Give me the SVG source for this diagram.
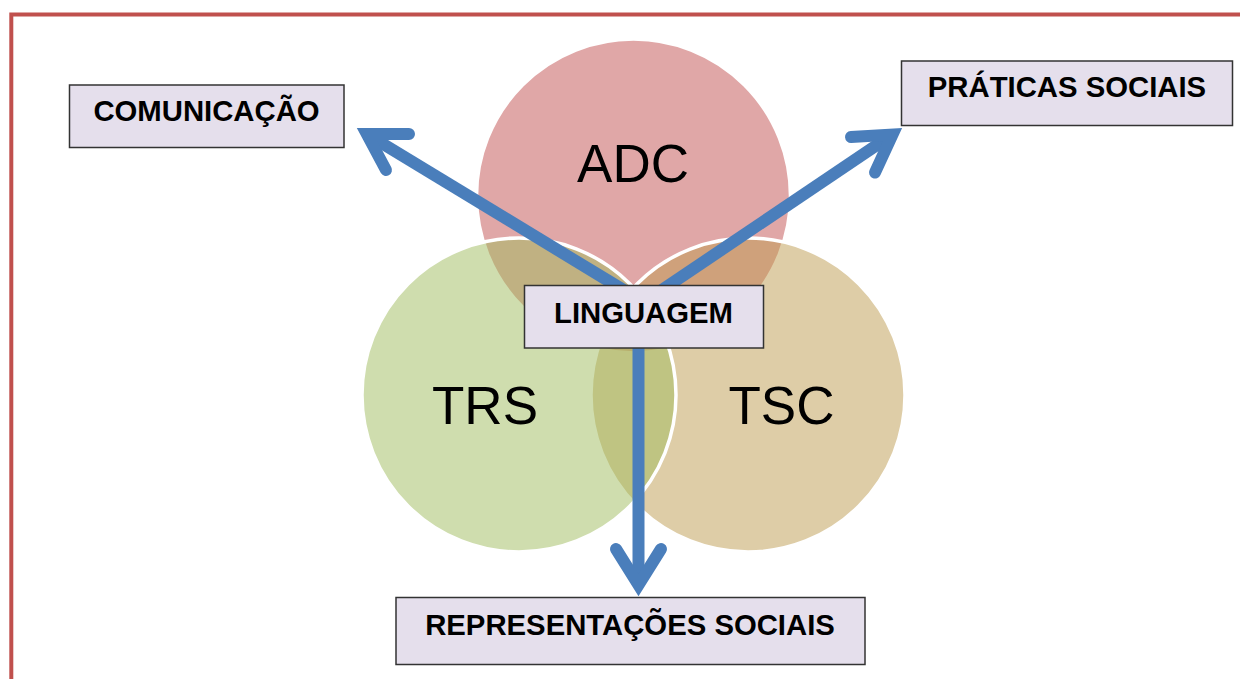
<svg xmlns="http://www.w3.org/2000/svg" width="1240" height="679" viewBox="0 0 1240 679">
  <style>
    .frame { fill: none; stroke: #C0504D; stroke-width: 4; }
    .venn { stroke: #FFFFFF; stroke-width: 3.5; }
    .label { fill: #E5DFEC; stroke: #333333; stroke-width: 1.5; }
    .label-text { font-family: "Liberation Sans", Arial, sans-serif; font-weight: bold; font-size: 29.3px; fill: #000000; text-anchor: middle; }
    .set-text { font-family: "Liberation Sans", Arial, sans-serif; font-size: 53px; fill: #000000; text-anchor: middle; }
    .shaft { fill: none; stroke: #4A7EBB; stroke-width: 12; stroke-linecap: butt; }
    .head { fill: none; stroke: #4A7EBB; stroke-width: 12; stroke-linecap: round; stroke-linejoin: miter; stroke-miterlimit: 10; }
  </style>

  <!-- outer frame -->
  <rect class="frame" x="11.3" y="14.5" width="1300" height="800"/>

  <!-- three overlapping sets -->
  <g id="set-adc">
    <circle class="venn" cx="633.5" cy="196" r="157" fill="#C14F4F" fill-opacity="0.5"/>
    <text class="set-text" x="633" y="182">ADC</text>
  </g>
  <g id="set-tsc">
    <circle class="venn" cx="748" cy="395" r="157" fill="#BD9B4F" fill-opacity="0.5"/>
    <text class="set-text" x="781.5" y="424">TSC</text>
  </g>
  <g id="set-trs">
    <circle class="venn" cx="519" cy="395" r="157" fill="#9FBB5D" fill-opacity="0.5"/>
    <text class="set-text" x="485" y="424">TRS</text>
  </g>

  <!-- arrows leaving the centre -->
  <g id="connectors">
    <path class="shaft" d="M640,300 L366.8,134.1"/>
    <path class="head" d="M409,134 L366.8,134.1 L386,170"/>
    <path class="shaft" d="M647,300 L892.5,134.5"/>
    <path class="head" d="M851,137 L892.5,134.5 L875,172.5"/>
    <path class="shaft" d="M638.5,300 L638.5,585"/>
    <path class="head" d="M616,549 L638.5,585 L661,549"/>
  </g>

  <g id="node-linguagem">
    <rect class="label" x="524.5" y="285.5" width="239" height="62.5"/>
    <text class="label-text" x="643.5" y="323.3">LINGUAGEM</text>
  </g>
  <g id="node-comunicacao">
    <rect class="label" x="69.5" y="85" width="274.5" height="62.5"/>
    <text class="label-text" x="206.5" y="120.5">COMUNICAÇÃO</text>
  </g>
  <g id="node-praticas">
    <rect class="label" x="901.5" y="61" width="331" height="64.5"/>
    <text class="label-text" x="1067" y="97.3">PRÁTICAS SOCIAIS</text>
  </g>
  <g id="node-representacoes">
    <rect class="label" x="396" y="597.5" width="469" height="67"/>
    <text class="label-text" x="630" y="635">REPRESENTAÇÕES SOCIAIS</text>
  </g>
</svg>
